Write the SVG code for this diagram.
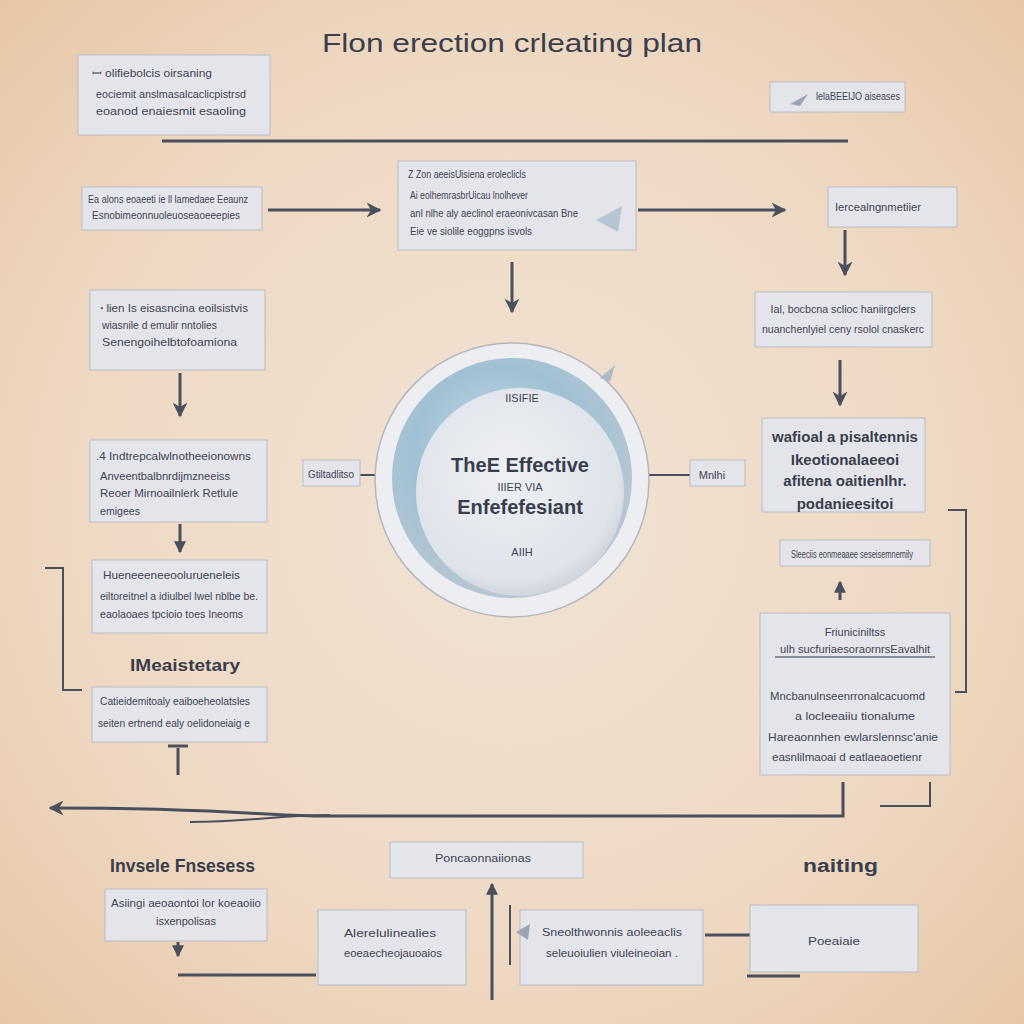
<svg xmlns="http://www.w3.org/2000/svg" width="1024" height="1024" viewBox="0 0 1024 1024">
<defs>
<radialGradient id="bg" cx="50%" cy="50%" r="75%">
<stop offset="0" stop-color="#f1e3d4"/>
<stop offset="0.6" stop-color="#eed8c2"/>
<stop offset="1" stop-color="#e6c3a0"/>
</radialGradient>
<radialGradient id="ring" cx="45%" cy="40%" r="60%">
<stop offset="0" stop-color="#c9dbe6"/>
<stop offset="0.6" stop-color="#9fc1d4"/>
<stop offset="1" stop-color="#b9c6d2"/>
</radialGradient>
<radialGradient id="core" cx="45%" cy="40%" r="65%">
<stop offset="0" stop-color="#eef0f4"/>
<stop offset="0.8" stop-color="#dfe3ea"/>
<stop offset="1" stop-color="#c8cdd7"/>
</radialGradient>
<marker id="ah" viewBox="0 0 10 10" refX="9" refY="5" markerWidth="5" markerHeight="5" orient="auto-start-reverse">
<path d="M0,0 L10,5 L0,10 L3,5 z" fill="#4a4f5e"/>
</marker>
<marker id="ahs" viewBox="0 0 10 10" refX="9" refY="5" markerWidth="4" markerHeight="4" orient="auto-start-reverse">
<path d="M0,0 L10,5 L0,10 z" fill="#4a4f5e"/>
</marker>
</defs>
<style>
.box{fill:#e4e5eb;stroke:#b9bcc6;stroke-width:1}
.t{font-family:"Liberation Sans",Arial,sans-serif;font-size:11px;fill:#3f4352}
.tc{text-anchor:middle}
.b{font-family:"Liberation Sans",Arial,sans-serif;font-weight:bold;fill:#3a3e4c}
.title{font-family:"Liberation Sans",Arial,sans-serif;font-size:25px;fill:#3a3e4c;text-anchor:middle}
.ln{stroke:#4a4f5e;stroke-width:3;fill:none}
.thin{stroke:#4a4f5e;stroke-width:2;fill:none}
</style>
<rect width="1024" height="1024" fill="url(#bg)"/>
<text x="512" y="52" class="title" textLength="380" lengthAdjust="spacingAndGlyphs">Flon erection crleating plan</text>

<g id="connectors">
<path class="ln" d="M162,141 L848,141" stroke-width="5"/>
<path class="ln" d="M268,210 L380,210" marker-end="url(#ah)"/>
<path class="ln" d="M638,210 L785,210" marker-end="url(#ah)"/>
<path class="ln" d="M845,230 L845,275" marker-end="url(#ah)"/>
<path class="ln" d="M512,262 L512,312" marker-end="url(#ah)"/>
<path class="ln" d="M840,360 L840,405" marker-end="url(#ah)"/>
<path class="ln" d="M180,373 L180,416" marker-end="url(#ah)"/>
<path class="ln" d="M180,524 L180,552" marker-end="url(#ahs)"/>
<path class="thin" d="M360,475 L376,475"/>
<path class="thin" d="M648,475 L690,475"/>
<path class="thin" d="M45,568 L63,568 L63,690 L82,690"/>
<path class="thin" d="M948,510 L966,510 L966,692 L955,692"/>
<path class="ln" d="M840,600 L840,582" marker-end="url(#ahs)"/>
<path class="ln" d="M178,775 L178,748"/>
<path class="ln" d="M168,746 L188,746"/>
<path class="ln" d="M843,782 L843,816 L320,816 C260,816 230,808 50,808" marker-end="url(#ah)"/>
<path class="thin" d="M190,822 C250,822 280,815 330,815"/>
<path class="thin" d="M880,806 L930,806 L930,782"/>
<path class="ln" d="M492,1000 L492,884" marker-end="url(#ahs)"/>
<path class="thin" d="M510,905 L510,965"/>
<path class="ln" d="M178,975 L316,975"/>
<path class="ln" d="M705,935 L770,935" marker-end="url(#ah)"/>
<path class="ln" d="M747,976 L800,976"/>
<path class="ln" d="M178,942 L178,956" marker-end="url(#ahs)"/>
</g>

<g id="nA">
<rect class="box" x="78" y="55" width="192" height="80"/>
<text class="t" x="92" y="77" textLength="120" lengthAdjust="spacingAndGlyphs">ꟷ olifiebolcis oirsaning</text>
<text class="t" x="96" y="98" textLength="150" lengthAdjust="spacingAndGlyphs">eociemit anslmasalcaclicpistrsd</text>
<text class="t" x="96" y="115" textLength="150" lengthAdjust="spacingAndGlyphs">eoanod enaiesmit esaoling</text>
</g>
<g id="nB">
<rect class="box" x="770" y="82" width="135" height="30"/>
<path d="M790,104 L808,94 L800,106 z" fill="#9aa6b8"/>
<text class="t" x="816" y="100" font-size="10" textLength="84" lengthAdjust="spacingAndGlyphs">lelaBEEIJO aiseases</text>
</g>
<g id="nC">
<rect class="box" x="82" y="187" width="180" height="43"/>
<text class="t" x="88" y="203" font-size="10" textLength="160" lengthAdjust="spacingAndGlyphs">Ea alons eoaeeti ie ll lamedaee Eeaunz</text>
<text class="t" x="92" y="219" font-size="10" textLength="148" lengthAdjust="spacingAndGlyphs">Esnobimeonnuoleuoseaoeeepies</text>
</g>
<g id="nD">
<rect class="box" x="398" y="161" width="238" height="89"/>
<text class="t" x="408" y="178" textLength="118" lengthAdjust="spacingAndGlyphs">Z Zon aeeisUisiena eroleclicls</text>
<text class="t" x="410" y="199" textLength="118" lengthAdjust="spacingAndGlyphs">Ai eolhemrasbrUicau lnolhever</text>
<text class="t" x="410" y="217" textLength="168" lengthAdjust="spacingAndGlyphs">anl nlhe aly aeclinol eraeonivcasan Bne</text>
<text class="t" x="410" y="235" textLength="122" lengthAdjust="spacingAndGlyphs">Eie ve siolile eoggpns isvols</text>
<path d="M596,220 L622,206 L618,232 z" fill="#b6c5d4"/>
</g>
<g id="nE">
<rect class="box" x="828" y="187" width="129" height="40"/>
<text class="t" x="835" y="211" textLength="86" lengthAdjust="spacingAndGlyphs">Iercealngnmetiier</text>
</g>
<g id="nF">
<rect class="box" x="755" y="292" width="177" height="55"/>
<text class="t tc" x="843" y="313" textLength="145" lengthAdjust="spacingAndGlyphs">Ial, bocbcna sclioc haniirgclers</text>
<text class="t tc" x="843" y="333" textLength="162" lengthAdjust="spacingAndGlyphs">nuanchenlyiel ceny rsolol cnaskerc</text>
</g>
<g id="nG">
<rect class="box" x="762" y="418" width="163" height="94"/>
<text class="b tc" x="845" y="442" font-size="15">wafioal a pisaltennis</text>
<text class="b tc" x="845" y="465" font-size="15">Ikeotionalaeeoi</text>
<text class="b tc" x="845" y="486" font-size="15">afitena oaitienlhr.</text>
<text class="b tc" x="845" y="509" font-size="15">podanieesitoi</text>
</g>
<g id="nH">
<rect class="box" x="780" y="540" width="150" height="26"/>
<text class="t tc" x="852" y="558" font-size="9" textLength="122" lengthAdjust="spacingAndGlyphs">Sleeciis eonmeaaee seseisemnemily</text>
</g>
<g id="nI">
<rect class="box" x="760" y="613" width="190" height="162"/>
<text class="t tc" x="855" y="636">Friuniciniltss</text>
<text class="t tc" x="855" y="653" textLength="150" lengthAdjust="spacingAndGlyphs">ulh sucfuriaesoraornrsEavalhit</text>
<path d="M775,657 L935,657" stroke="#6b7080" stroke-width="1.5"/>
<text class="t" x="770" y="700" textLength="155" lengthAdjust="spacingAndGlyphs">Mncbanulnseenrronalcacuomd</text>
<text class="t" x="795" y="720" textLength="120" lengthAdjust="spacingAndGlyphs">a locleeaiiu tionalume</text>
<text class="t" x="768" y="741" textLength="170" lengthAdjust="spacingAndGlyphs">Hareaonnhen ewlarslennsc'anie</text>
<text class="t" x="772" y="761" textLength="150" lengthAdjust="spacingAndGlyphs">easnlilmaoai d eatlaeaoetienr</text>
</g>
<g id="nCenter">
<circle cx="512" cy="480" r="137" fill="#eceef2" stroke="#b3b7c0" stroke-width="1.5"/>
<circle cx="512" cy="478" r="120" fill="url(#ring)"/>
<circle cx="520" cy="492" r="104" fill="url(#core)"/>
<path d="M600,378 L615,365 L610,382 z" fill="#aeb9c6"/>
<text class="t tc" x="522" y="402" font-size="9">IISIFIE</text>
<text class="b tc" x="520" y="472" font-size="20">TheE Effective</text>
<text class="t tc" x="520" y="491" font-size="9">IIIER  VIA</text>
<text class="b tc" x="520" y="514" font-size="20">Enfefefesiant</text>
<text class="t tc" x="522" y="556" font-size="9">AIIH</text>
</g>
<g id="nLeftTag">
<rect class="box" x="303" y="460" width="57" height="26"/>
<text class="t tc" x="331" y="478" font-size="10" textLength="46" lengthAdjust="spacingAndGlyphs">Gtiltadlitso</text>
</g>
<g id="nRightTag">
<rect class="box" x="690" y="460" width="55" height="26"/>
<text class="t tc" x="712" y="479" font-size="10">Mnlhi</text>
</g>
<g id="nJ">
<rect class="box" x="90" y="290" width="175" height="80"/>
<text class="t" x="100" y="312" textLength="148" lengthAdjust="spacingAndGlyphs">ꞏ lien Is eisasncina eoilsistvis</text>
<text class="t" x="102" y="329" textLength="115" lengthAdjust="spacingAndGlyphs">wiasnile d emulir nntolies</text>
<text class="t" x="102" y="346" textLength="135" lengthAdjust="spacingAndGlyphs">Senengoihelbtofoamiona</text>
</g>
<g id="nK">
<rect class="box" x="90" y="440" width="177" height="82"/>
<text class="t" x="96" y="460" textLength="155" lengthAdjust="spacingAndGlyphs">.4 Indtrepcalwlnotheeionowns</text>
<text class="t" x="100" y="480" textLength="130" lengthAdjust="spacingAndGlyphs">Anveentbalbnrdijmzneeiss</text>
<text class="t" x="100" y="497" textLength="138" lengthAdjust="spacingAndGlyphs">Reoer Mirnoailnlerk Retlule</text>
<text class="t" x="100" y="515" textLength="40" lengthAdjust="spacingAndGlyphs">emigees</text>
</g>
<g id="nL">
<rect class="box" x="92" y="560" width="175" height="73"/>
<text class="t" x="103" y="579" textLength="137" lengthAdjust="spacingAndGlyphs">Hueneeeneeoolurueneleis</text>
<text class="t" x="100" y="600" textLength="158" lengthAdjust="spacingAndGlyphs">eiltoreitnel a idiulbel lwel nblbe be.</text>
<text class="t" x="100" y="618" textLength="143" lengthAdjust="spacingAndGlyphs">eaolaoaes tpcioio toes Ineoms</text>
</g>
<text class="b" x="130" y="671" font-size="16" fill="#4d505c" textLength="110" lengthAdjust="spacingAndGlyphs">IMeaistetary</text>
<g id="nM">
<rect class="box" x="92" y="687" width="175" height="55"/>
<text class="t" x="100" y="705" textLength="150" lengthAdjust="spacingAndGlyphs">Catieidemitoaly eaiboeheolatsles</text>
<text class="t" x="98" y="727" textLength="152" lengthAdjust="spacingAndGlyphs">seiten ertnend ealy oelidoneiaig e</text>
</g>
<text class="b" x="110" y="872" font-size="18" fill="#4d505c" textLength="145" lengthAdjust="spacingAndGlyphs">Invsele Fnsesess</text>
<text class="b" x="803" y="872" font-size="18" fill="#4d505c" textLength="75" lengthAdjust="spacingAndGlyphs">naiting</text>
<g id="nN">
<rect class="box" x="390" y="842" width="193" height="36"/>
<text class="t tc" x="483" y="862" font-size="11" textLength="96" lengthAdjust="spacingAndGlyphs">Poncaonnaiionas</text>
</g>
<g id="nO">
<rect class="box" x="105" y="889" width="162" height="52"/>
<text class="t tc" x="186" y="907" font-size="10" textLength="150" lengthAdjust="spacingAndGlyphs">Asiingi aeoaontoi lor koeaoiio</text>
<text class="t tc" x="186" y="925" font-size="10">isxenpolisas</text>
</g>
<g id="nP">
<rect class="box" x="318" y="910" width="148" height="75"/>
<text class="t" x="344" y="937" textLength="92" lengthAdjust="spacingAndGlyphs">Alerelulinealies</text>
<text class="t" x="344" y="957" textLength="98" lengthAdjust="spacingAndGlyphs">eoeaecheojauoaios</text>
</g>
<g id="nQ">
<rect class="box" x="520" y="910" width="183" height="75"/>
<path d="M516,932 L530,924 L528,940 z" fill="#9aa6b8"/>
<text class="t tc" x="612" y="936" font-size="11" textLength="140" lengthAdjust="spacingAndGlyphs">Sneolthwonnis aoleeaclis</text>
<text class="t tc" x="612" y="957" font-size="11" textLength="132" lengthAdjust="spacingAndGlyphs">seleuoiulien viuleineoian .</text>
</g>
<g id="nR">
<rect class="box" x="750" y="905" width="168" height="67"/>
<text class="t tc" x="834" y="945" font-size="11" textLength="52" lengthAdjust="spacingAndGlyphs">Poeaiaie</text>
</g>
</svg>
